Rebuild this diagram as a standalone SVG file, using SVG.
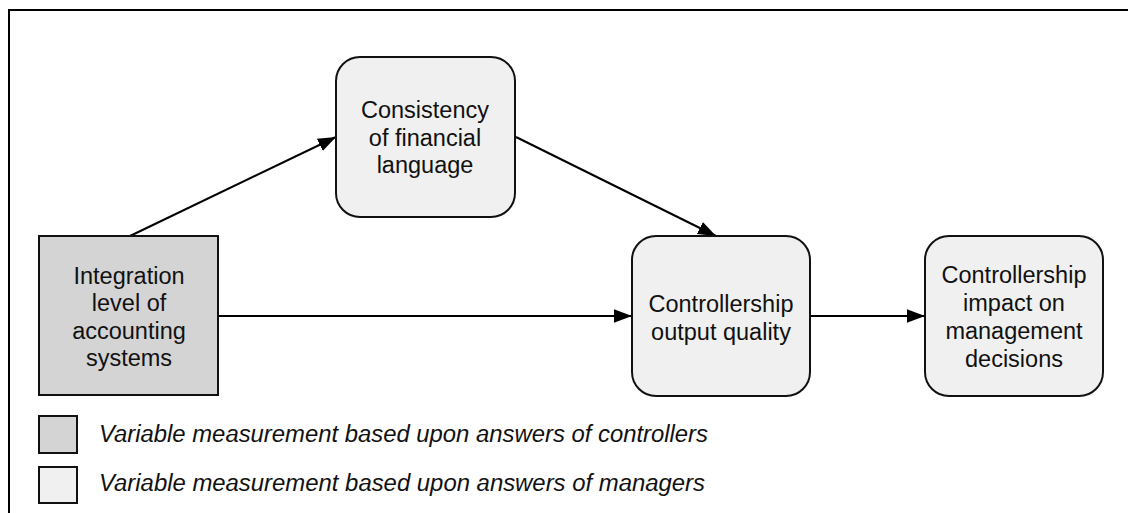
<svg xmlns="http://www.w3.org/2000/svg" width="1128" height="513" viewBox="0 0 1128 513">
<defs>
<style>
.t{font-family:"Liberation Sans",Arial,sans-serif;font-size:23.5px;fill:#111;text-anchor:middle}
.lg{font-family:"Liberation Sans",Arial,sans-serif;font-size:23px;font-style:italic;fill:#111}
.node{stroke:#111;stroke-width:2}
.light{fill:#f0f0f0}
.dark{fill:#d4d4d4}
.conn{stroke:#000;stroke-width:2;fill:none;marker-end:url(#ah)}
</style>
<marker id="ah" markerUnits="userSpaceOnUse" markerWidth="18" markerHeight="14" refX="16" refY="6" orient="auto" viewBox="0 0 16 12">
<path d="M0,0 L16,6 L0,12 Z" fill="#000"/>
</marker>
</defs>
<rect width="1128" height="513" fill="#fff"/>
<path d="M9,513 L9,10 L1128,10" fill="none" stroke="#000" stroke-width="2"/>
<g id="connectors">
<line class="conn" x1="130" y1="236" x2="336" y2="137"/>
<line class="conn" x1="516" y1="137" x2="716" y2="236"/>
<line class="conn" x1="219" y1="316" x2="632" y2="316"/>
<line class="conn" x1="810" y1="316" x2="925" y2="316"/>
</g>
<g id="integration">
<rect class="node dark" x="39" y="236" width="179" height="159"/>
<text class="t" x="129" y="284">Integration</text>
<text class="t" x="129" y="311">level of</text>
<text class="t" x="129" y="339">accounting</text>
<text class="t" x="129" y="366">systems</text>
</g>
<g id="consistency">
<rect class="node light" x="336" y="57" width="179" height="160" rx="24"/>
<text class="t" x="425" y="118">Consistency</text>
<text class="t" x="425" y="146">of financial</text>
<text class="t" x="425" y="173">language</text>
</g>
<g id="output">
<rect class="node light" x="632" y="236" width="178" height="160" rx="24"/>
<text class="t" x="721" y="312">Controllership</text>
<text class="t" x="721" y="340">output quality</text>
</g>
<g id="impact">
<rect class="node light" x="925" y="236" width="178" height="160" rx="24"/>
<text class="t" x="1014" y="283">Controllership</text>
<text class="t" x="1014" y="311">impact on</text>
<text class="t" x="1014" y="339">management</text>
<text class="t" x="1014" y="367">decisions</text>
</g>
<g id="legend">
<rect class="node dark" x="39" y="416" width="38" height="37"/>
<text class="lg" x="99" y="442" textLength="609" lengthAdjust="spacingAndGlyphs">Variable measurement based upon answers of controllers</text>
<rect class="node light" x="39" y="467" width="38" height="36"/>
<text class="lg" x="99" y="491" textLength="606" lengthAdjust="spacingAndGlyphs">Variable measurement based upon answers of managers</text>
</g>
</svg>
